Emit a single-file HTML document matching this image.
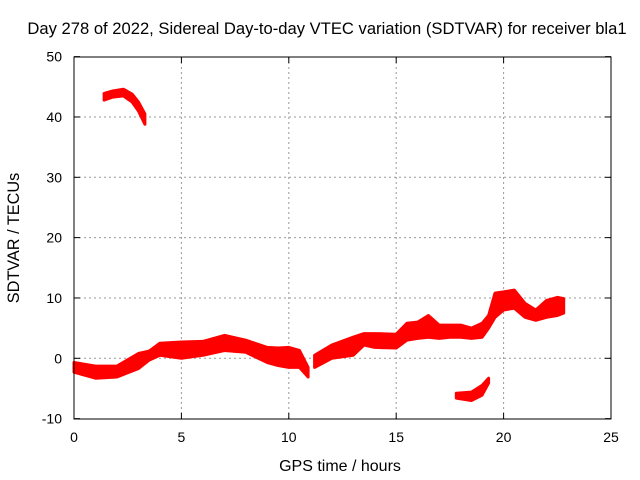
<!DOCTYPE html>
<html><head><meta charset="utf-8"><style>
html,body{margin:0;padding:0;background:#fff}
svg{display:block;font-family:"Liberation Sans",sans-serif}
</style></head><body>
<svg id="chart" width="640" height="480">
<text x="327" y="34" text-anchor="middle" font-size="16.6">Day 278 of 2022, Sidereal Day-to-day VTEC variation (SDTVAR) for receiver bla1</text>
<g id="grid"></g>
<g id="series"></g>
<rect x="74" y="57" width="537" height="362" fill="none" stroke="#000" stroke-width="1"/>
<g id="ticks"></g>
<text x="340" y="471" text-anchor="middle" font-size="16">GPS time / hours</text>
<text transform="translate(19,238) rotate(-90)" text-anchor="middle" font-size="16.3">SDTVAR / TECUs</text>
</svg>
<script>
const xTicks=[0,5,10,15,20,25];
const yTicks=[-10,0,10,20,30,40,50];
// segments: times, upper values, lower values
const seg1T=[0,1,2,3,3.5,4,5,6,7,8,9,9.5,10,10.5,10.9];
const seg1Hi=[-0.7,-1.3,-1.3,0.8,1.2,2.5,2.7,2.8,3.8,3,1.8,1.7,1.8,1.3,-1.5];
const seg1Lo=[-2.3,-3.3,-3.1,-1.7,-0.3,0.5,0,0.5,1.3,1,-0.7,-1.2,-1.5,-1.5,-3.1];
const seg2T=[11.2,12,13,13.5,14,15,15.5,16,16.5,17,17.5,18,18.5,19,19.3,19.6,20,20.5,21,21.5,22,22.5,22.8];
const seg2Hi=[0.5,2.2,3.5,4.1,4.1,4,5.8,6,7.1,5.5,5.5,5.5,5,5.8,7.1,10.8,11,11.3,9.1,8,9.6,10.1,9.9];
const seg2Lo=[-1.5,0,0.5,2.2,1.8,1.7,3,3.3,3.5,3.3,3.5,3.5,3.3,3.5,5,6.8,8,8.3,6.8,6.3,6.8,7.1,7.5];
const seg3T=[1.4,1.8,2.3,2.7,3.0,3.3];
const seg3Hi=[43.9,44.3,44.6,43.8,42.5,40.5];
const seg3Lo=[42.8,43.3,43.5,42.5,41,38.8];
const seg4T=[17.8,18.5,19,19.3];
const seg4Hi=[-5.8,-5.6,-4.5,-3.3];
const seg4Lo=[-6.6,-7,-6.1,-4.1];

const X=h=>74+h*(537/25);
const Y=v=>358.3-v*(362/60);
const NS="http://www.w3.org/2000/svg";
const grid=document.getElementById('grid'),ticks=document.getElementById('ticks'),series=document.getElementById('series');
function mk(tag,attrs,parent){const e=document.createElementNS(NS,tag);for(const k in attrs)e.setAttribute(k,attrs[k]);parent.appendChild(e);return e;}
xTicks.forEach(t=>{
  const x=X(t);
  if(t>0&&t<25){const g=mk('line',{x1:x,x2:x,y1:57,y2:419,stroke:'#999','stroke-dasharray':'2,3'},grid);
  
  }
  mk('line',{x1:x,x2:x,y1:419,y2:413,stroke:'#000'},ticks);
  mk('line',{x1:x,x2:x,y1:57,y2:63,stroke:'#000'},ticks);
  const l=mk('text',{x:x,y:442,'text-anchor':'middle','font-size':14},ticks);l.textContent=t;
  
  
});
yTicks.forEach(t=>{
  const y=Y(t);
  if(t>-10&&t<50){const g=mk('line',{x1:74,x2:611,y1:y,y2:y,stroke:'#999','stroke-dasharray':'2,3'},grid);
  
  }
  mk('line',{x1:74,x2:80,y1:y,y2:y,stroke:'#000'},ticks);
  mk('line',{x1:611,x2:605,y1:y,y2:y,stroke:'#000'},ticks);
  const l=mk('text',{x:62,y:y+5,'text-anchor':'end','font-size':14},ticks);l.textContent=t;
  
  
});
function band(T,Hi,Lo,name){
  const pts=[];
  T.forEach((t,i)=>pts.push(X(t).toFixed(1)+','+Y(Hi[i]).toFixed(1)));
  for(let i=T.length-1;i>=0;i--)pts.push(X(T[i]).toFixed(1)+','+Y(Lo[i]).toFixed(1));
  const p=mk('polygon',{points:pts.join(' '),fill:'#f00',stroke:'#f00','stroke-width':3,'stroke-linejoin':'round'},series);
  
  
}
band(seg1T,seg1Hi,seg1Lo,'series-segment-1');
band(seg2T,seg2Hi,seg2Lo,'series-segment-2');
band(seg3T,seg3Hi,seg3Lo,'series-segment-3');
band(seg4T,seg4Hi,seg4Lo,'series-segment-4');
</script>
</body></html>
